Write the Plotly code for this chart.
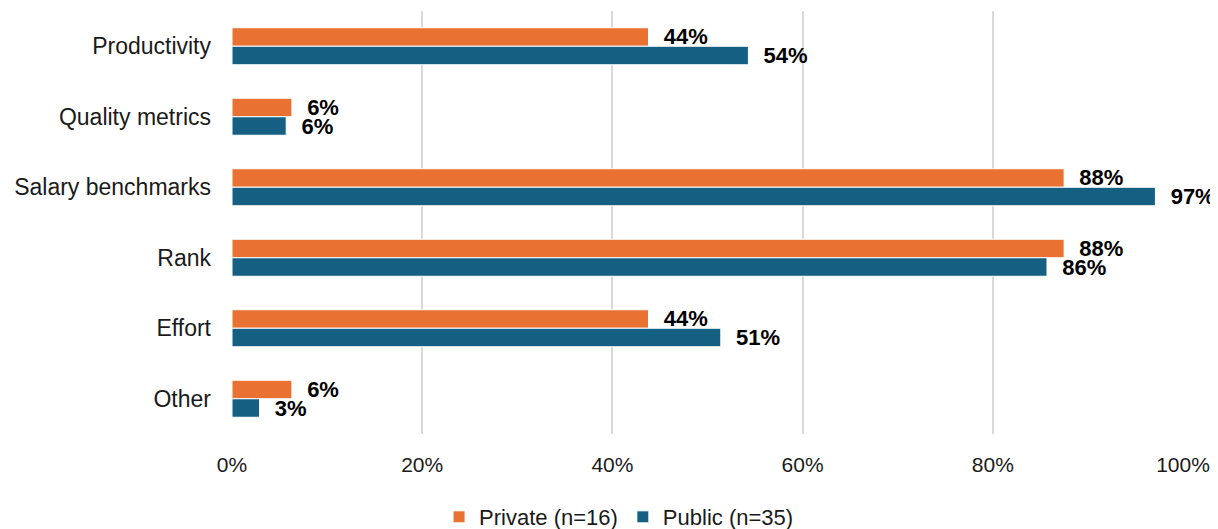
import plotly.graph_objects as go

categories = ["Productivity", "Quality metrics", "Salary benchmarks", "Rank", "Effort", "Other"]
private_pct = [43.8, 6.3, 87.5, 87.5, 43.8, 6.3]
public_pct = [54.3, 5.7, 97.1, 85.7, 51.4, 2.9]
series_names = ["Private (n=16)", "Public (n=35)"]
colors = ["#E97132", "#156082"]
x_ticks = [0, 20, 40, 60, 80, 100]
x_tick_labels = ["0%", "20%", "40%", "60%", "80%", "100%"]

FONT = "Liberation Sans"

fig = go.Figure()
for name, vals, col in zip(series_names, [private_pct, public_pct], colors):
    fig.add_trace(go.Bar(
        y=categories, x=vals, name=name, orientation="h",
        marker=dict(color=col, line=dict(color="white", width=1)),
        texttemplate="\u00a0\u00a0%{x:.0f}%", textposition="outside",
        textfont=dict(family=FONT, size=22, color="#000000", weight="bold"),
        constraintext="none", cliponaxis=False, hoverinfo="skip",
    ))

fig.update_layout(
    width=1210, height=521,
    margin=dict(l=224, r=35, t=3, b=95, autoexpand=False),
    paper_bgcolor="white", plot_bgcolor="white",
    barmode="group", bargap=0.475, bargroupgap=0,
    font=dict(family=FONT, size=21, color="#1a1a1a"),
    legend=dict(orientation="h", xref="container", x=0.505, xanchor="center",
                yref="container", y=0.023, yanchor="middle",
                font=dict(family=FONT, size=22, color="#1a1a1a"), itemwidth=30,
                traceorder="normal"),
    xaxis=dict(range=[0, 100], tickmode="array", tickvals=x_ticks, ticktext=x_tick_labels,
               showgrid=True, gridcolor="#D9D9D9", gridwidth=2, zeroline=False, showline=False,
               ticklabelstandoff=16, tickfont=dict(size=21), automargin=False),
    yaxis=dict(autorange="reversed", showgrid=False, zeroline=False, showline=False,
               ticklabelstandoff=20, tickfont=dict(size=23), automargin=False),
)

fig.write_html("out.html")
